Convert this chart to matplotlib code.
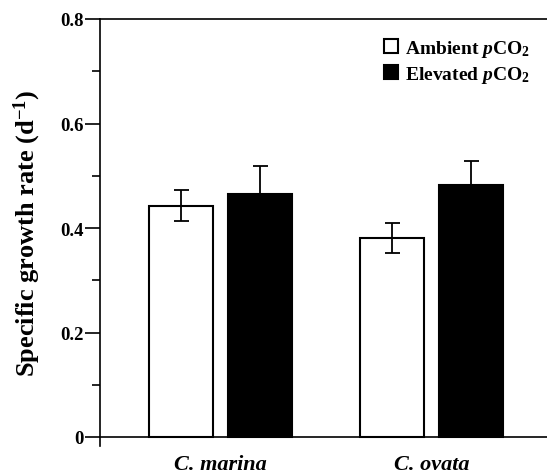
import matplotlib.pyplot as plt
import numpy as np

species = ["C. marina", "C. ovata"]
ambient = [0.443, 0.381]
ambient_err = [0.029, 0.029]
elevated = [0.466, 0.483]
elevated_err = [0.053, 0.045]

plt.rcParams['font.family'] = 'Liberation Serif'
plt.rcParams['font.weight'] = 'bold'
plt.rcParams['axes.labelweight'] = 'bold'
plt.rcParams['mathtext.fontset'] = 'custom'
plt.rcParams['mathtext.rm'] = 'Liberation Serif:bold'
plt.rcParams['mathtext.it'] = 'Liberation Serif:bold:italic'
plt.rcParams['mathtext.bf'] = 'Liberation Serif:bold'

fig = plt.figure(figsize=(5.47, 4.77), dpi=100)
ax = fig.add_axes([100 / 547, 1 - 438 / 477 - 0.017 * 522.5 / 477, 1 - 100 / 547, (418 + 0.017 * 522.5) / 477])

x = np.arange(len(species))
w = 0.303
off = 0.187
ax.bar(x - off, ambient, w, color="white", edgecolor="black", linewidth=1.5,
       yerr=ambient_err, capsize=5.4, error_kw=dict(elinewidth=1.3, capthick=1.3, ecolor="black"),
       label=r"Ambient $\mathit{p}$CO$_2$")
ax.bar(x + off, elevated, w, color="black", edgecolor="black", linewidth=1.5,
       yerr=elevated_err, capsize=5.4, error_kw=dict(elinewidth=1.3, capthick=1.3, ecolor="black"),
       label=r"Elevated $\mathit{p}$CO$_2$")

ax.set_xlim(-0.569, 1.545)
ax.set_ylim(-0.017, 0.8)
ax.spines['right'].set_visible(False)
ax.spines['bottom'].set_position(('data', 0))
for s in ['left', 'top', 'bottom']:
    ax.spines[s].set_linewidth(1.2)

ax.set_yticks([0, 0.2, 0.4, 0.6, 0.8])
ax.set_yticklabels(["0", "0.2", "0.4", "0.6", "0.8"])
ax.set_yticks([0.1, 0.3, 0.5, 0.7], minor=True)
ax.tick_params(axis='y', which='major', length=10.8, width=1.2, labelsize=13.5, pad=1)
ax.tick_params(axis='y', which='minor', length=5.8, width=1.2)
ax.set_xticks(x)
ax.set_xticklabels(species, fontstyle='italic', fontsize=16)
ax.tick_params(axis='x', length=0, pad=12)

ax.set_ylabel(r"Specific growth rate (d$^{-1}$)", fontsize=19, labelpad=12)

ax.legend(loc='upper right', bbox_to_anchor=(1.0, 0.997), frameon=False, fontsize=14,
          handlelength=0.7, handleheight=0.7, handletextpad=0.35, labelspacing=0.25)

fig.savefig("out.png", dpi=100)
